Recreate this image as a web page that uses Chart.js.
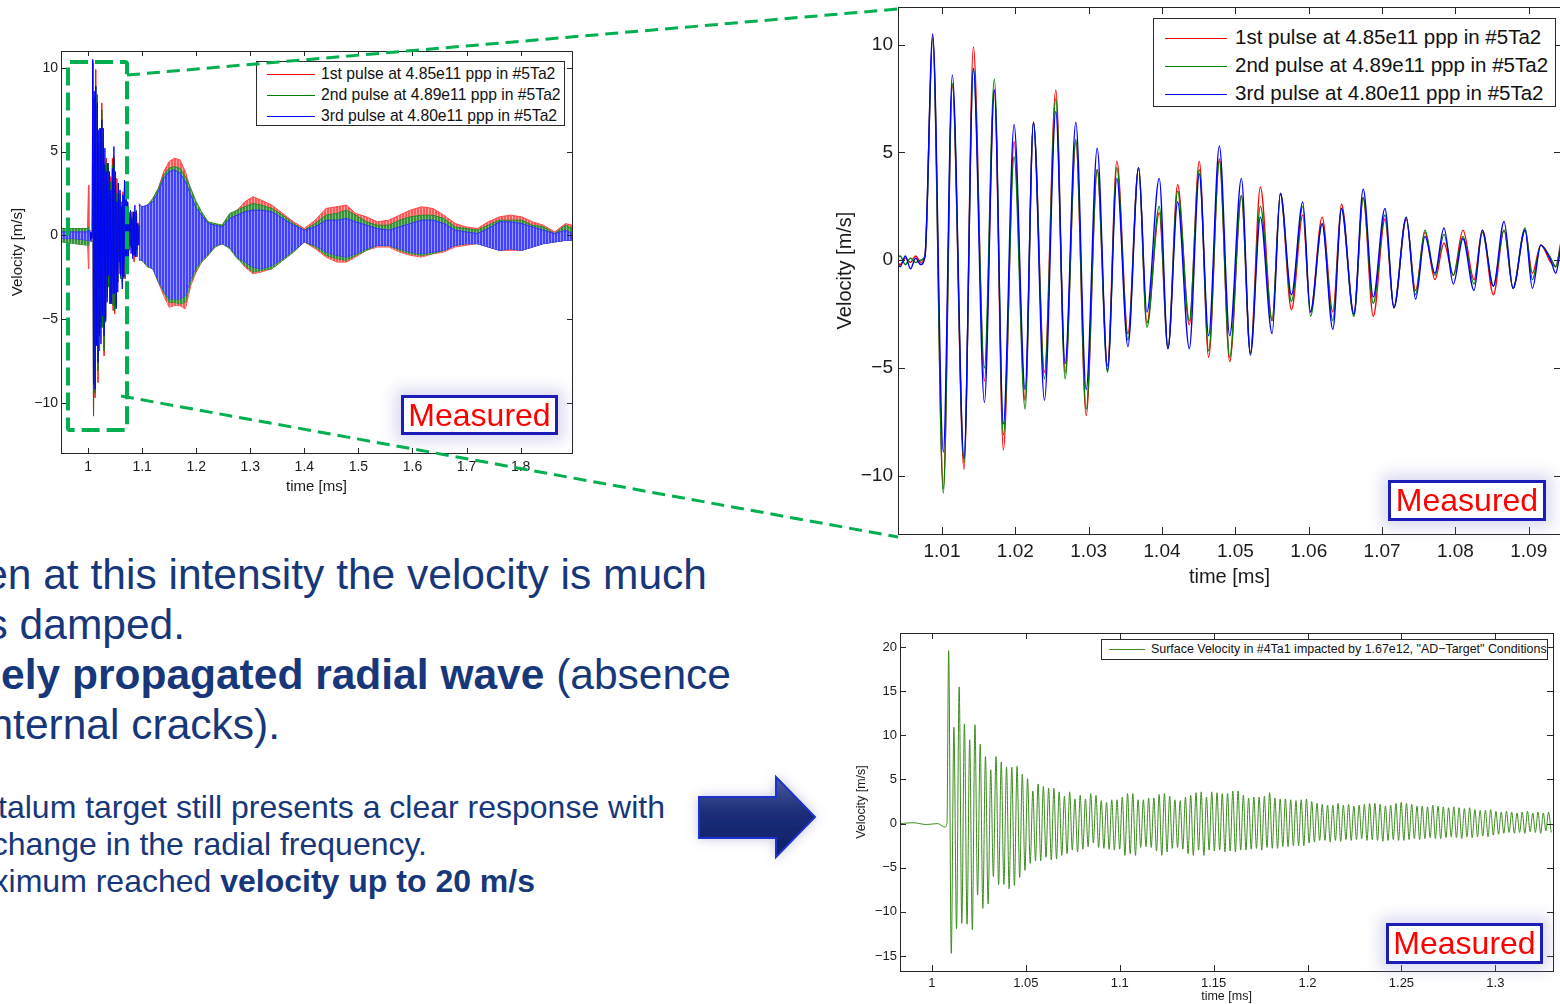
<!DOCTYPE html>
<html>
<head>
<meta charset="utf-8">
<title>Surface velocity of tantalum targets</title>
<script src="https://cdn.jsdelivr.net/npm/chart.js@4.4.1/dist/chart.umd.min.js"></script>
<style>
  body { margin: 0; background: #fff; }
  #page { position: relative; width: 1560px; height: 1004px; overflow: hidden; background: #fff;
          font-family: "Liberation Sans", Arial, sans-serif; }
  .plot { position: absolute; }
  .legend { position: absolute; background: #fff; border: 1px solid #2b2b2b; color: #111; box-sizing: border-box; }
  .legend div { position: absolute; left: 0; white-space: nowrap; }
  .legend i { display: inline-block; vertical-align: middle; border-top: 1px solid; }
  .measured { position: absolute; box-sizing: border-box; border: 3px solid #1c1cb8; background: #fff; color: #ff0000;
              font-size: 32px; text-align: center; box-shadow: 0 0 14px 6px rgba(150,150,215,0.35); }
  .txt { position: absolute; white-space: nowrap; color: #17377a; line-height: 1; }
  .big { font-size: 42.5px; }
  .small { font-size: 32px; }
  svg { position: absolute; left: 0; top: 0; pointer-events: none; }
</style>
</head>
<body>
<div id="page">
  <div class="plot" style="left:0;top:0"><canvas id="Overview" width="600" height="510"></canvas></div>
  <div class="plot" style="left:820px;top:0"><canvas id="ZoomPulse" width="780" height="600"></canvas></div>
  <div class="plot" style="left:820px;top:600px"><canvas id="HighIntensity" width="760" height="404"></canvas></div>

  <div class="legend" style="left:256px;top:61px;width:309px;height:65px;font-size:15.7px">
    <div style="top:1px;line-height:21px"><i style="margin:0 6px 0 10px;width:48px;border-color:#ff0000"></i>1st pulse at 4.85e11 ppp in #5Ta2</div>
    <div style="top:22px;line-height:21px"><i style="margin:0 6px 0 10px;width:48px;border-color:#008000"></i>2nd pulse at 4.89e11 ppp in #5Ta2</div>
    <div style="top:43px;line-height:21px"><i style="margin:0 6px 0 10px;width:48px;border-color:#0000ff"></i>3rd pulse at 4.80e11 ppp in #5Ta2</div>
  </div>
  <div class="legend" style="left:1153px;top:18px;width:403px;height:89px;font-size:20.5px">
    <div style="top:4px;line-height:28px"><i style="margin:0 8px 0 11px;width:62px;border-color:#ff0000"></i>1st pulse at 4.85e11 ppp in #5Ta2</div>
    <div style="top:32px;line-height:28px"><i style="margin:0 8px 0 11px;width:62px;border-color:#008000"></i>2nd pulse at 4.89e11 ppp in #5Ta2</div>
    <div style="top:60px;line-height:28px"><i style="margin:0 8px 0 11px;width:62px;border-color:#0000ff"></i>3rd pulse at 4.80e11 ppp in #5Ta2</div>
  </div>
  <div class="legend" style="left:1101px;top:639px;width:447px;height:21px;font-size:12.45px">
    <div style="top:0;line-height:19px"><i style="margin:0 6px 0 7px;width:36px;border-color:#3c8c1e"></i>Surface Velocity in #4Ta1 impacted by 1.67e12, "AD−Target" Conditions</div>
  </div>

  <div class="measured" style="left:401px;top:395px;width:157px;height:40px;line-height:34px">Measured</div>
  <div class="measured" style="left:1388px;top:480px;width:158px;height:41px;line-height:35px">Measured</div>
  <div class="measured" style="left:1386px;top:923px;width:157px;height:41px;line-height:35px">Measured</div>

  <div class="txt big" style="right:853px;top:554px">en at this intensity the velocity is much</div>
  <div class="txt big" style="right:1375px;top:604px">s damped.</div>
  <div class="txt big" style="right:829px;top:654px"><b>ely propagated radial wave</b> (absence</div>
  <div class="txt big" style="right:1280px;top:704px">nternal cracks).</div>
  <div class="txt small" style="right:895px;top:790.9px">talum target still presents a clear response with</div>
  <div class="txt small" style="right:1133px;top:827.9px">change in the radial frequency.</div>
  <div class="txt small" style="right:1025px;top:864.9px">ximum reached <b>velocity up to 20 m/s</b></div>

  <svg width="1560" height="1004" viewBox="0 0 1560 1004">
    <defs>
      <linearGradient id="arrowFill" x1="0" y1="0" x2="0" y2="1">
        <stop offset="0" stop-color="#4c5c9c"/>
        <stop offset="0.45" stop-color="#1c2d78"/>
        <stop offset="1" stop-color="#0b1f66"/>
      </linearGradient>
      <filter id="glow" x="-30%" y="-30%" width="160%" height="160%">
        <feDropShadow dx="0" dy="0" stdDeviation="6" flood-color="#8080b8" flood-opacity="0.45"/>
      </filter>
    </defs>
    <g stroke="#00b050" fill="none" stroke-width="3" stroke-dasharray="13 7">
      <line x1="127" y1="75" x2="898" y2="9"/>
      <line x1="121" y1="396" x2="898" y2="537"/>
    </g>
    <rect x="68" y="62" width="59" height="368" rx="2" stroke="#00b050" fill="none" stroke-width="4" stroke-dasharray="18 7"/>
    <polygon points="699,797 776,797 776,777 815,817 776,857 776,838 699,838" fill="url(#arrowFill)" stroke="#1f33d0" stroke-width="2" filter="url(#glow)"/>
  </svg>
</div>

<script>
// zoomed pulses (top right), peaks and troughs
const zoomTime = [
    1.0036, 1.0043, 1.0050, 1.0057, 1.0064, 1.0071, 1.00768,
    1.00873, 1.01018, 1.01141, 1.01300, 1.01428, 1.01578, 1.01714, 1.01837, 1.01983, 1.02133,
    1.02247, 1.02397, 1.02552, 1.02679, 1.02825, 1.02966, 1.03116, 1.03257, 1.03384, 1.03535,
    1.03680, 1.03794, 1.03962, 1.04081, 1.04213, 1.04372, 1.04508, 1.04636, 1.04782, 1.04923,
    1.05082, 1.05205, 1.05341, 1.05501, 1.05614, 1.05765, 1.05919, 1.06024, 1.06183, 1.06329,
    1.06447, 1.06616, 1.06743, 1.06880, 1.07039, 1.07162, 1.07330, 1.07457, 1.07585, 1.07721,
    1.07844, 1.07972, 1.08103, 1.08254, 1.08367, 1.08518, 1.08663, 1.08786, 1.08950, 1.09050,
    1.09164, 1.09300, 1.09368, 1.09437
];
const pulse1 = [
    0.1, -0.2, 0.1, -0.1, 0.2, -0.1, 0.2,
    10.4, -10.6, 8.1, -9.7, 9.9, -5.6, 7.9, -8.8, 5.5, -6.5,
    6.4, -5.2, 7.9, -5.2, 5.5, -7.2, 4.2, -4.9, 4.6, -3.4,
    4.3, -2.9, 2.2, -4.1, 3.5, -3.0, 4.6, -4.5, 4.7, -4.7,
    3.0, -4.3, 3.4, -2.8, 3.1, -2.3, 2.1, -2.4, 2.0, -2.4,
    2.6, -2.5, 2.9, -2.6, 1.9, -2.2, 1.9, -1.4, 1.3, -0.9,
    0.8, -0.7, 1.4, -0.9, 1.4, -1.6, 1.4, -1.3, 1.4, -0.6,
    0.7, -0.1, -0.3, 0.8
];
const pulse2 = [
    0.0, 0.2, -0.2, 0.1, -0.1, 0.0, 0.2,
    10.3, -10.8, 8.2, -9.4, 8.9, -5.0, 8.4, -8.1, 4.8, -6.9,
    6.4, -5.5, 7.5, -5.5, 5.6, -6.9, 4.2, -5.2, 4.3, -3.7,
    4.3, -3.1, 2.5, -4.1, 3.2, -2.8, 4.2, -4.2, 4.6, -4.5,
    3.0, -4.3, 2.5, -2.8, 3.1, -1.9, 2.5, -2.6, 1.7, -2.8,
    2.4, -2.6, 2.9, -2.0, 2.1, -2.2, 2.0, -1.6, 1.4, -0.7,
    1.2, -0.7, 1.1, -1.1, 1.3, -1.2, 1.4, -1.3, 1.5, -0.9,
    0.7, 0.1, -0.3, 0.7
];
const pulse3 = [
    0.3, -0.3, 0.2, -0.4, 0.1, -0.2, 0.2,
    10.5, -8.9, 8.6, -9.2, 8.9, -6.6, 7.9, -7.6, 6.3, -6.0,
    6.4, -6.5, 6.9, -4.8, 6.4, -6.0, 5.2, -5.1, 3.8, -4.0,
    4.3, -2.4, 3.8, -4.1, 2.7, -4.1, 4.0, -3.5, 5.3, -3.5,
    3.8, -4.4, 2.0, -3.4, 3.1, -1.6, 2.7, -2.4, 1.7, -3.2,
    2.4, -2.5, 3.3, -1.7, 2.4, -2.2, 2.0, -1.8, 1.1, -0.6,
    1.5, -1.1, 1.0, -1.4, 1.4, -1.2, 1.8, -1.3, 1.4, -1.3,
    0.7, 0.0, -0.6, 0.6
];

// overview (top left): the trace is too dense to resolve, so keep its upper/lower envelope
// null at 1.05 splits the quiet pre-trigger part from the tail (the burst itself uses the zoom data)
const envTime = [
    0.951, 0.975, 0.999, 1.0008, 1.0016, 1.0034, 1.05,
    1.094, 1.100, 1.110, 1.120, 1.130, 1.140, 1.150, 1.160, 1.170, 1.180,
    1.190, 1.200, 1.210, 1.222, 1.235, 1.248, 1.262, 1.276, 1.290, 1.305,
    1.320, 1.340, 1.360, 1.380, 1.400, 1.420, 1.440, 1.460, 1.478, 1.495,
    1.515, 1.535, 1.556, 1.576, 1.596, 1.617, 1.638, 1.658, 1.679, 1.699,
    1.720, 1.740, 1.761, 1.781, 1.802, 1.822, 1.842, 1.863, 1.883, 1.895
];
const env1Hi = [
    0.2, 0.2, 0.3, 3.0, 0.4, 0.3, null,
    1.8, 1.5, 1.7, 2.2, 2.8, 3.8, 4.4, 4.6, 4.5, 3.8,
    2.7, 1.8, 1.3, 0.8, 0.6, 0.6, 1.2, 1.5, 2.0, 2.3,
    2.1, 1.8, 1.3, 0.8, 0.4, 0.9, 1.6, 1.7, 1.8, 1.3,
    1.1, 0.8, 0.9, 1.2, 1.5, 1.7, 1.6, 1.2, 0.7, 0.5,
    0.4, 0.8, 1.1, 1.2, 1.1, 0.8, 0.6, 0.2, 0.7, 0.6
];
const env1Lo = [
    -0.2, -0.2, -0.3, -2.0, -0.4, -0.3, null,
    -1.4, -1.5, -1.8, -2.0, -2.8, -3.6, -4.3, -4.2, -4.2, -4.4,
    -3.0, -2.2, -1.6, -1.2, -0.7, -0.5, -0.7, -1.3, -1.9, -2.3,
    -2.2, -2.0, -1.5, -1.0, -0.4, -0.8, -1.3, -1.6, -1.6, -1.3,
    -0.9, -0.7, -0.7, -1.0, -1.2, -1.3, -1.1, -1.0, -0.7, -0.6,
    -0.5, -0.7, -0.9, -0.9, -0.9, -0.7, -0.5, -0.4, -0.3, -0.2
];
const env2Hi = [
    0.4, 0.4, 0.4, 0.5, 0.5, 0.4, null,
    1.8, 1.6, 1.8, 2.2, 2.8, 3.6, 4.0, 4.1, 4.0, 3.5,
    2.8, 2.0, 1.4, 0.8, 0.7, 0.6, 1.3, 1.5, 1.7, 1.9,
    1.8, 1.6, 1.2, 0.7, 0.3, 0.7, 1.2, 1.3, 1.5, 1.2,
    0.8, 0.6, 0.6, 0.9, 1.1, 1.2, 1.2, 1.0, 0.5, 0.4,
    0.3, 0.6, 0.9, 0.9, 0.9, 0.6, 0.5, 0.1, 0.6, 0.4
];
const env2Lo = [
    -0.4, -0.5, -0.6, -0.6, -0.5, -0.4, null,
    -1.5, -1.5, -1.9, -2.0, -2.8, -3.4, -4.0, -4.0, -4.1, -4.0,
    -2.8, -2.1, -1.6, -1.2, -0.7, -0.5, -0.8, -1.4, -1.8, -2.2,
    -2.1, -2.0, -1.5, -1.0, -0.4, -0.7, -1.2, -1.4, -1.5, -1.2,
    -0.9, -0.6, -0.6, -0.9, -1.1, -1.2, -1.1, -0.9, -0.6, -0.5,
    -0.5, -0.7, -0.9, -0.8, -0.9, -0.7, -0.5, -0.4, -0.3, -0.3
];
const env3Hi = [
    0.2, 0.2, 0.2, 0.3, 0.3, 0.3, null,
    1.9, 1.7, 1.8, 2.0, 2.6, 3.4, 3.8, 3.9, 3.7, 3.2,
    2.4, 1.6, 1.2, 0.7, 0.6, 0.5, 1.0, 1.2, 1.4, 1.5,
    1.5, 1.4, 1.0, 0.6, 0.3, 0.5, 0.9, 0.9, 1.0, 0.8,
    0.6, 0.4, 0.3, 0.5, 0.7, 0.9, 0.9, 0.7, 0.3, 0.2,
    0.1, 0.4, 0.8, 0.8, 0.7, 0.5, 0.3, 0.1, 0.3, 0.1
];
const env3Lo = [
    -0.2, -0.2, -0.3, -0.3, -0.3, -0.3, null,
    -1.4, -1.5, -1.8, -2.0, -2.7, -3.3, -3.8, -3.8, -3.8, -3.6,
    -2.6, -1.9, -1.5, -1.1, -0.6, -0.5, -0.7, -1.3, -1.6, -1.9,
    -2.0, -1.8, -1.4, -0.9, -0.4, -0.6, -1.0, -1.2, -1.3, -1.1,
    -0.8, -0.6, -0.6, -0.8, -1.0, -1.1, -1.0, -0.9, -0.6, -0.5,
    -0.5, -0.7, -0.9, -0.8, -0.9, -0.7, -0.5, -0.4, -0.3, -0.3
];

// high intensity shot (bottom right): quiet start, then one crest + one trough per cycle
const brPreTime = [0.983, 0.990, 0.997, 1.003, 1.0070, 1.0080];
const brPreVel = [0.0, 0.1, -0.1, 0.0, -0.4, 0.0];
const brFirstCrest = 1.0089;   // ms
const brCycle = 0.002802;      // ms, spacing of the crests on the trace
const brCrest = [
    19.6, 10.9, 15.5, 11.3, 9.5, 11.2, 9.0, 7.6, 6.1, 7.6,
    7.0, 6.4, 6.4, 6.5, 5.6, 5.1, 3.7, 4.5, 4.2, 4.0,
    4.0, 3.6, 3.1, 3.6, 2.8, 3.2, 2.8, 3.4, 3.2, 2.6,
    2.4, 2.7, 2.7, 3.0, 3.4, 3.4, 2.7, 2.7, 2.9, 2.9,
    3.3, 3.4, 3.1, 2.7, 2.6, 3.0, 3.2, 3.5, 3.6, 3.0,
    3.6, 3.5, 3.4, 3.4, 3.7, 3.7, 3.2, 2.9, 3.0, 3.0,
    3.1, 3.5, 2.9, 2.8, 2.8, 2.7, 2.6, 2.7, 2.8, 2.5,
    2.3, 2.2, 2.1, 2.1, 2.3, 2.1, 2.2, 2.0, 2.1, 2.2,
    2.3, 2.3, 2.2, 2.0, 2.1, 2.3, 2.4, 2.3, 2.2, 2.0,
    2.0, 1.9, 2.1, 2.0, 1.9, 1.8, 1.9, 1.8, 1.7, 1.8,
    1.6, 1.5, 1.5, 1.6, 1.4, 1.3, 1.4, 1.3, 1.2, 1.3,
    1.4, 1.2, 1.3, 1.2, 1.3
];
const brTrough = [
    -14.7, -11.9, -11.3, -11.4, -12.0, -8.1, -9.6, -9.1, -6.0, -6.9,
    -6.9, -7.4, -7.0, -6.1, -5.3, -4.5, -4.2, -4.2, -3.8, -4.1,
    -4.0, -3.6, -3.4, -3.0, -3.2, -2.9, -2.6, -2.2, -2.7, -2.8,
    -2.9, -3.0, -2.9, -3.6, -3.4, -3.6, -2.7, -2.6, -2.7, -3.1,
    -3.6, -3.2, -2.8, -2.7, -2.9, -3.4, -3.6, -3.0, -3.6, -3.0,
    -3.1, -3.0, -3.2, -3.1, -3.2, -3.0, -3.0, -2.9, -2.8, -3.0,
    -2.7, -2.8, -2.8, -2.6, -2.6, -2.5, -2.5, -2.5, -2.2, -2.1,
    -1.9, -1.9, -2.1, -1.9, -2.0, -1.8, -1.9, -1.8, -1.7, -1.9,
    -1.8, -1.9, -2.0, -1.9, -1.8, -1.9, -1.9, -1.8, -1.7, -1.8,
    -1.7, -1.6, -1.7, -1.7, -1.6, -1.5, -1.6, -1.7, -1.5, -1.6,
    -1.5, -1.4, -1.5, -1.3, -1.2, -1.1, -1.0, -1.1, -1.0, -1.1,
    -0.9, -1.0, -1.1, -0.8, -1.0
];

const RED = "rgb(255,0,0)";
const GREEN = "rgb(0,128,0)";
const BLUE = "rgb(0,0,255)";

Chart.defaults.font.family = '"Liberation Sans", Arial, sans-serif';
Chart.defaults.color = "#1a1a1a";
Chart.defaults.animation = false;
Chart.defaults.plugins.legend.display = false;
Chart.defaults.plugins.tooltip.enabled = false;
Chart.defaults.elements.point.radius = 0;

function pts(xs, ys) {
    return xs.map((x, i) => ({ x: x, y: ys[i] }));
}

function tickLabel(v) {
    const s = String(Math.round(Math.abs(v) * 1000) / 1000);
    return v < -1e-9 ? "\u2212" + s : s;
}

// fine vertical streaks, so the unresolved trace looks like the dense original
function streaks(solid, light) {
    const c = document.createElement("canvas");
    c.width = 3;
    c.height = 1;
    const g = c.getContext("2d");
    g.fillStyle = solid;
    g.fillRect(0, 0, 3, 1);
    g.fillStyle = light;
    g.fillRect(2, 0, 1, 1);
    return g.createPattern(c, "repeat");
}

// matlab style box: frame all round and ticks pointing inwards on every side
const matlabBox = {
    id: "matlabBox",
    afterDatasetsDraw(chart, args, opts) {
        const { ctx, chartArea: a, scales } = chart;
        const len = opts.tick;
        ctx.save();
        ctx.strokeStyle = "#262626";
        ctx.lineWidth = 1;
        ctx.beginPath();
        scales.x.ticks.forEach((t) => {
            const px = Math.round(scales.x.getPixelForValue(t.value)) + 0.5;
            ctx.moveTo(px, a.bottom); ctx.lineTo(px, a.bottom - len);
            ctx.moveTo(px, a.top); ctx.lineTo(px, a.top + len);
        });
        scales.y.ticks.forEach((t) => {
            const py = Math.round(scales.y.getPixelForValue(t.value)) + 0.5;
            ctx.moveTo(a.left, py); ctx.lineTo(a.left + len, py);
            ctx.moveTo(a.right, py); ctx.lineTo(a.right - len, py);
        });
        ctx.stroke();
        ctx.strokeRect(Math.round(a.left) + 0.5, Math.round(a.top) + 0.5,
            Math.round(a.right - a.left), Math.round(a.bottom - a.top));
        ctx.restore();
    },
};

function axis(o) {
    return {
        type: "linear",
        min: o.min,
        max: o.max,
        afterFit: (s) => {
            if (s.isHorizontal()) s.height = o.size;
            else s.width = o.size;
            // plot box is placed by the layout padding alone
            s.paddingTop = 0; s.paddingBottom = 0; s.paddingLeft = 0; s.paddingRight = 0;
        },
        grid: { display: false, drawTicks: false },
        border: { display: false },
        ticks: {
            stepSize: o.step,
            includeBounds: false,
            autoSkip: false,
            maxRotation: 0,
            padding: o.pad,
            font: { size: o.font },
            callback: tickLabel,
        },
        title: { display: true, text: o.title, font: { size: o.titleFont }, padding: o.titlePad },
    };
}

function OverviewChart() {
    const ctx = document.getElementById("Overview");
    const band = (hi, lo, line, fillCol, ord) => [
        { data: pts(envTime, hi), borderColor: line, backgroundColor: fillCol, borderWidth: 1, fill: "+1", order: ord },
        { data: pts(envTime, lo), borderColor: line, borderWidth: 1, fill: false, order: ord },
    ];
    const trace = (ys, col, ord) => ({
        data: pts(zoomTime, ys), borderColor: col, borderWidth: 1, cubicInterpolationMode: "monotone", fill: false, order: ord,
    });

    new Chart(ctx, {
        type: "line",
        data: {
            datasets: [
                ...band(env1Hi, env1Lo, "rgb(255,70,70)", streaks("rgb(255,90,90)", "rgb(255,165,165)"), 5),
                trace(pulse1, RED, 4),
                ...band(env2Hi, env2Lo, "rgb(40,140,40)", streaks("rgb(55,145,55)", "rgb(135,190,135)"), 3),
                trace(pulse2, GREEN, 2),
                ...band(env3Hi, env3Lo, "rgb(50,50,255)", streaks("rgb(65,65,255)", "rgb(150,150,255)"), 1),
                trace(pulse3, BLUE, 0),
            ],
        },
        options: {
            responsive: false,
            layout: { padding: { left: 0, top: 51, right: 28, bottom: 7 } },
            scales: {
                x: axis({ min: 0.95, max: 1.895, step: 0.1, size: 50, pad: 6, font: 14, title: "time [ms]", titleFont: 15, titlePad: 7 }),
                y: axis({ min: -13, max: 11, step: 5, size: 61, pad: 3, font: 14, title: "Velocity [m/s]", titleFont: 15, titlePad: 9 }),
            },
            plugins: { matlabBox: { tick: 5 } },
        },
        plugins: [matlabBox],
    });
}

function ZoomPulseChart() {
    const ctx = document.getElementById("ZoomPulse");
    const trace = (ys, col, ord) => ({
        data: pts(zoomTime, ys), borderColor: col, borderWidth: 1.4, cubicInterpolationMode: "monotone", fill: false, order: ord,
    });

    new Chart(ctx, {
        type: "line",
        data: {
            datasets: [trace(pulse1, RED, 2), trace(pulse2, GREEN, 1), trace(pulse3, BLUE, 0)],
        },
        options: {
            responsive: false,
            layout: { padding: { left: 0, top: 7, right: 39, bottom: 0 } },
            scales: {
                x: axis({ min: 1.004, max: 1.0944, step: 0.01, size: 66, pad: 6, font: 19, title: "time [ms]", titleFont: 20, titlePad: 11 }),
                y: axis({ min: -12.7, max: 11.75, step: 5, size: 78, pad: 5, font: 19, title: "Velocity [m/s]", titleFont: 20, titlePad: 13 }),
            },
            plugins: { matlabBox: { tick: 7 } },
        },
        plugins: [matlabBox],
    });
}

function HighIntensityChart() {
    const ctx = document.getElementById("HighIntensity");
    const data = pts(brPreTime, brPreVel);
    brCrest.forEach((v, i) => {
        data.push({ x: brFirstCrest + i * brCycle, y: v });
        data.push({ x: brFirstCrest + (i + 0.5) * brCycle, y: brTrough[i] });
    });

    new Chart(ctx, {
        type: "line",
        data: {
            datasets: [
                { data: data, borderColor: "rgb(60,140,30)", borderWidth: 1, cubicInterpolationMode: "monotone", fill: false },
            ],
        },
        options: {
            responsive: false,
            layout: { padding: { left: 0, top: 33, right: 27, bottom: 0 } },
            scales: {
                x: axis({ min: 0.983, max: 1.3307, step: 0.05, size: 33, pad: 5, font: 13, title: "time [ms]", titleFont: 12.5, titlePad: 0 }),
                y: axis({ min: -16.7, max: 21.6, step: 5, size: 80, pad: 3, font: 13, title: "Velocity [m/s]", titleFont: 12.5, titlePad: 34 }),
            },
            plugins: { matlabBox: { tick: 6 } },
        },
        plugins: [matlabBox],
    });
}

OverviewChart();
ZoomPulseChart();
HighIntensityChart();
</script>
</body>
</html>
